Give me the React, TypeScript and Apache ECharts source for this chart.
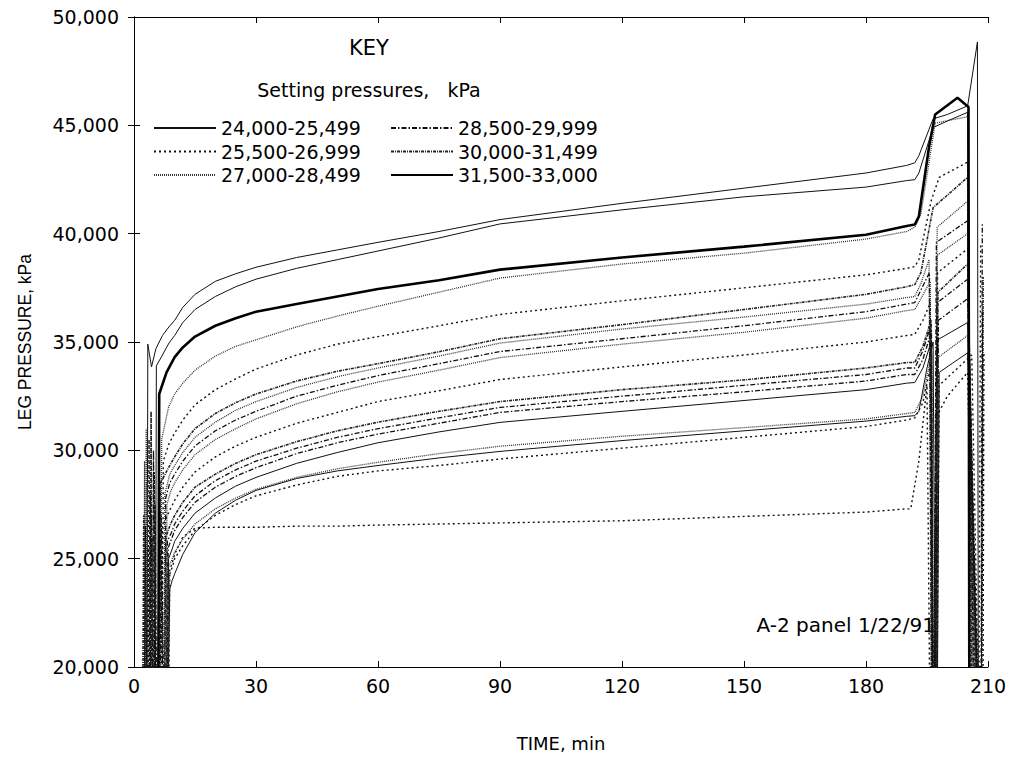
import React, { useEffect, useRef } from "react";
import * as echarts from "echarts";

// ---------- DATA ----------
const X_TICKS_MIN = 0;
const X_TICKS_MAX = 210;
const X_INTERVAL = 30;
const Y_MIN = 20000;
const Y_MAX = 50000;
const Y_INTERVAL = 5000;

const GROUP_NAMES = [
  "24,000-25,499",
  "25,500-26,999",
  "27,000-28,499",
  "28,500-29,999",
  "30,000-31,499",
  "31,500-33,000",
];

// group index of each traced curve
const SERIES_GROUP = [0, 0, 5, 2, 1, 4, 2, 3, 2, 1, 4, 3, 3, 0, 2, 0, 1, 1];

// common time grid (min) for the main body of each curve
const TIME_GRID = [10, 12, 15, 20, 25, 30, 40, 50, 60, 75, 90, 120, 150, 180, 190];

// leg pressure (kPa) of each curve at TIME_GRID
const BODY_VALUES = [
  [36000, 36600, 37200, 37800, 38150, 38450, 38900, 39250, 39600, 40100, 40650, 41400, 42100, 42800, 43150],
  [35300, 35900, 36500, 37100, 37550, 37900, 38400, 38800, 39200, 39800, 40450, 41100, 41700, 42150, 42450],
  [34300, 34750, 35250, 35750, 36100, 36400, 36750, 37100, 37450, 37850, 38340, 38900, 39400, 39950, 40350],
  [32600, 33100, 33700, 34350, 34800, 35100, 35700, 36200, 36650, 37300, 37950, 38600, 39100, 39750, 40100],
  [30800, 31400, 32100, 32800, 33300, 33750, 34400, 34900, 35250, 35750, 36270, 36900, 37500, 38100, 38400],
  [29700, 30300, 31000, 31700, 32200, 32600, 33200, 33650, 34000, 34550, 35150, 35800, 36500, 37200, 37550],
  [29300, 29900, 30600, 31300, 31850, 32250, 32900, 33400, 33800, 34350, 34950, 35600, 36150, 36750, 37050],
  [28900, 29500, 30200, 30900, 31400, 31800, 32500, 33000, 33450, 34000, 34560, 35150, 35750, 36400, 36750],
  [28500, 29100, 29800, 30500, 31000, 31450, 32150, 32700, 33150, 33700, 34280, 34900, 35450, 36100, 36450],
  [27700, 28300, 29000, 29700, 30200, 30600, 31250, 31750, 32250, 32750, 33270, 33850, 34400, 35000, 35300],
  [27000, 27600, 28300, 28900, 29400, 29800, 30400, 30900, 31300, 31800, 32250, 32800, 33250, 33800, 34050],
  [26600, 27200, 27900, 28600, 29100, 29500, 30100, 30600, 31000, 31500, 31980, 32500, 33000, 33500, 33800],
  [26300, 26900, 27600, 28300, 28800, 29200, 29850, 30350, 30750, 31250, 31750, 32250, 32700, 33200, 33500],
  [25800, 26400, 27100, 27800, 28350, 28750, 29400, 29900, 30350, 30850, 31290, 31800, 32300, 32800, 33100],
  [25300, 25900, 26600, 27300, 27800, 28200, 28750, 29150, 29450, 29850, 30190, 30650, 31050, 31450, 31700],
  [24300, 25200, 26200, 27100, 27700, 28150, 28700, 29050, 29300, 29650, 29950, 30450, 30900, 31350, 31570],
  [25000, 25600, 26300, 27000, 27500, 27900, 28400, 28800, 29050, 29300, 29600, 30100, 30600, 31100, 31400],
  [25200, 26000, 26400, 26450, 26450, 26450, 26500, 26500, 26550, 26600, 26650, 26750, 26950, 27150, 27300],
];

// [time, kPa] points before the common grid (setting spikes)
const START_POINTS = [
  [[3.2, 20000], [3.4, 34900], [4.3, 33850], [5.4, 34700], [7, 35300], [8.6, 35700]],
  [[5.3, 20000], [5.5, 33900], [7, 34400], [8.6, 34950]],
  [[6.0, 20000], [6.2, 32600], [8, 33600]],
  [[2.8, 20000], [3.0, 31000], [3.3, 20000], [6.6, 20000], [6.8, 30500], [8.5, 32000]],
  [[3.5, 20000], [3.7, 30500], [4.0, 20000], [7.0, 20000], [7.2, 29500], [8.6, 30300]],
  [[4.0, 20000], [4.2, 31800], [4.5, 20000], [6.3, 20000], [6.5, 28500], [8.5, 29200]],
  [[2.4, 20000], [2.6, 29500], [2.9, 20000], [7.4, 20000], [7.6, 28000], [8.8, 28900]],
  [[4.6, 20000], [4.8, 30000], [5.1, 20000], [6.0, 20000], [6.2, 29000], [7, 20000], [7.6, 20000], [7.8, 27800], [8.8, 28500]],
  [[3.0, 20000], [3.2, 28500], [3.5, 20000], [7.9, 20000], [8.1, 27500], [9, 28100]],
  [[4.8, 20000], [5.0, 29000], [5.3, 20000], [6.8, 20000], [7.0, 26500], [8.7, 27200]],
  [[2.2, 20000], [2.4, 27000], [2.7, 20000], [7.6, 20000], [7.8, 26000], [9, 26600]],
  [[3.8, 20000], [4.0, 28000], [4.3, 20000], [8.0, 20000], [8.2, 25800], [9.2, 26200]],
  [[5.0, 20000], [5.2, 27500], [5.5, 20000], [6.5, 20000], [6.7, 27000], [7.2, 20000], [8.2, 20000], [8.4, 25500], [9.2, 25900]],
  [[2.6, 20000], [2.8, 26500], [3.1, 20000], [8.3, 20000], [8.5, 25000], [9.3, 25400]],
  [[4.3, 20000], [4.5, 26000], [4.8, 20000], [8.0, 20000], [8.2, 24500], [9.2, 24900]],
  [[8.5, 20000], [8.8, 23600], [9.4, 24000]],
  [[3.3, 20000], [3.5, 25500], [3.8, 20000], [8.4, 20000], [8.6, 24200], [9.4, 24600]],
  [[4.1, 20000], [4.3, 27000], [4.6, 20000], [8.6, 20000], [8.8, 24500], [9.4, 24800]],
];

// [time, kPa] points after the common grid (yield and release)
const END_POINTS = [
  [[192, 43270], [193, 43600], [196.5, 45300], [200, 45500], [205, 45900], [207.4, 48850], [207.6, 20000]],
  [[192, 42490], [193, 42800], [196.5, 44900], [200, 45200], [205, 45600], [205.4, 20000]],
  [[192, 40420], [193, 40800], [195.5, 44000], [197, 45500], [202.5, 46270], [205.2, 45850], [205.4, 20000]],
  [[192, 40300], [193.5, 40900], [197, 45100], [205, 45400], [205.6, 20000]],
  [[192, 38480], [193, 38800], [196, 41500], [198, 42600], [205, 43300], [205.8, 20000], [207.8, 20000], [208.2, 39500]],
  [[192, 37650], [193.5, 38200], [196.5, 41200], [205, 42600], [206, 20000]],
  [[192, 37100], [193.5, 37700], [195.5, 38800], [196, 20000], [197, 20000], [197.5, 40300], [205, 41500], [206.2, 20000]],
  [[192, 36820], [193.5, 37400], [195.6, 38200], [196.1, 20000], [196.8, 20000], [197.3, 39600], [205, 40600], [206.4, 20000], [208.3, 20000], [208.6, 40500]],
  [[192, 36500], [193.5, 37000], [195.8, 37800], [196.3, 20000], [197.0, 20000], [197.5, 39000], [205, 40000], [206.6, 20000]],
  [[192, 35350], [194, 36000], [195.8, 36800], [196.2, 20000], [197.2, 20000], [197.6, 38200], [205, 39300], [206.8, 20000]],
  [[192, 34060], [194, 34800], [196, 36000], [196.4, 20000], [197.3, 20000], [197.7, 37300], [205, 38600], [207, 20000], [208.5, 20000], [208.8, 38000]],
  [[192, 33800], [194, 34600], [196, 35800], [196.3, 20000], [196.9, 20000], [197.4, 36800], [205, 37900], [207.2, 20000]],
  [[192, 33500], [194, 34200], [196.1, 35500], [196.5, 20000], [197.4, 20000], [197.8, 36000], [205, 37000], [207.4, 20000]],
  [[192, 33130], [194, 33800], [196, 35000], [196.4, 20000], [197.2, 20000], [197.6, 35100], [205, 35900], [207.1, 20000], [208.4, 20000], [208.7, 36500]],
  [[192, 31750], [194, 32500], [196.2, 34500], [196.6, 20000], [197.4, 20000], [197.8, 34300], [205, 35300], [206.9, 20000]],
  [[192, 31600], [193, 31800], [195, 33800], [196.5, 35000], [197, 20000], [197.6, 20000], [198, 33600], [205, 34500], [207.3, 20000]],
  [[192, 31500], [194, 32200], [196, 34000], [196.5, 20000], [197.5, 20000], [198, 33000], [206, 34400], [207.5, 20000], [208.8, 20000], [209, 34500]],
  [[191, 27300], [193, 29500], [195, 33000], [195.6, 20000], [196.8, 20000], [197.2, 31500], [200, 32500], [205, 33600], [206.6, 20000]],
];

const ANNOTATION = "A-2 panel 1/22/91";
const KEY_TITLE = "KEY";
const KEY_SUBTITLE = "Setting pressures,   kPa";
const X_NAME = "TIME, min";
const Y_NAME = "LEG PRESSURE, kPa";

// ---------- STYLES ----------
const FONT = "DejaVu Sans";
const GROUP_STYLES: any[] = [
  { width: 1, type: "solid", color: "#111" },
  { width: 1.4, type: [2, 3], color: "#111" },
  { width: 1.3, type: [1, 1], color: "#333" },
  { width: 1.3, type: [5, 2, 1.5, 2], color: "#111" },
  { width: 1.6, type: [3, 1, 1, 1], color: "#222" },
  { width: 2.6, type: "solid", color: "#000" },
];

function buildSeries() {
  return BODY_VALUES.map((vals, i) => {
    const g = SERIES_GROUP[i];
    const data = [
      ...START_POINTS[i],
      ...TIME_GRID.map((t, k) => [t, vals[k]]),
      ...END_POINTS[i],
    ];
    return {
      type: "line",
      name: GROUP_NAMES[g],
      data,
      symbol: "none",
      showSymbol: false,
      smooth: false,
      lineStyle: { ...GROUP_STYLES[g] },
      itemStyle: { color: GROUP_STYLES[g].color },
      z: g === 5 ? 3 : 2,
      emphasis: { disabled: true },
    };
  });
}

export default function App() {
  const ref = useRef<HTMLDivElement>(null);
  useEffect(() => {
    if (!ref.current) return;
    const chart = echarts.init(ref.current, undefined, { renderer: "svg" });
    const axisCommon = {
      type: "value",
      axisLine: { show: true, lineStyle: { color: "#000", width: 1 } },
      axisTick: { show: true, inside: true, length: 6, lineStyle: { color: "#000" } },
      splitLine: { show: false },
    };
    const legendCommon = {
      orient: "vertical",
      top: 118,
      itemWidth: 62,
      itemHeight: 14,
      itemGap: 3.5,
      padding: 0,
      selectedMode: false,
      itemStyle: { opacity: 0 },
      textStyle: { fontFamily: FONT, fontSize: 19, color: "#000", lineHeight: 20 },
    };
    chart.setOption({
      animation: false,
      backgroundColor: "#fff",
      textStyle: { fontFamily: FONT },
      title: {
        text: KEY_TITLE,
        subtext: KEY_SUBTITLE,
        left: 369,
        top: 37,
        textAlign: "center",
        itemGap: 22,
        padding: 0,
        textStyle: { fontFamily: FONT, fontSize: 21, fontWeight: "normal", color: "#000" },
        subtextStyle: { fontFamily: FONT, fontSize: 19, color: "#000" },
      },
      legend: [
        { ...legendCommon, left: 153, data: GROUP_NAMES.slice(0, 3) },
        { ...legendCommon, left: 390, data: GROUP_NAMES.slice(3, 6) },
      ],
      grid: { left: 134, right: 22, top: 17, bottom: 89, containLabel: false },
      xAxis: [
        {
          ...axisCommon,
          position: "bottom",
          min: X_TICKS_MIN,
          max: X_TICKS_MAX,
          interval: X_INTERVAL,
          name: X_NAME,
          nameLocation: "middle",
          nameGap: 67,
          nameTextStyle: { fontFamily: FONT, fontSize: 18, color: "#000" },
          axisLabel: { fontFamily: FONT, fontSize: 19, color: "#000", margin: 9 },
        },
        {
          ...axisCommon,
          position: "top",
          min: X_TICKS_MIN,
          max: X_TICKS_MAX,
          interval: X_INTERVAL,
          axisLabel: { show: false },
        },
      ],
      yAxis: [
        {
          ...axisCommon,
          position: "left",
          min: Y_MIN,
          max: Y_MAX,
          interval: Y_INTERVAL,
          name: Y_NAME,
          nameLocation: "middle",
          nameGap: 100,
          nameRotate: 90,
          nameTextStyle: { fontFamily: "Liberation Sans", fontSize: 17.5, color: "#000" },
          axisLabel: {
            fontFamily: FONT,
            fontSize: 19,
            color: "#000",
            margin: 15,
            formatter: (v: number) => v.toLocaleString("en-US"),
          },
        },
        {
          ...axisCommon,
          position: "right",
          min: Y_MIN,
          max: Y_MAX,
          interval: Y_INTERVAL,
          axisLabel: { show: false },
        },
      ],
      graphic: [
        {
          type: "text",
          x: 935,
          y: 625,
          style: {
            text: ANNOTATION,
            fontFamily: FONT,
            fontSize: 20,
            fill: "#000",
            align: "right",
            verticalAlign: "middle",
          },
        },
      ],
      series: buildSeries(),
    });
    return () => chart.dispose();
  }, []);
  return (
    <div
      ref={ref}
      style={{ position: "fixed", left: 0, top: 0, width: 1010, height: 757, background: "#fff" }}
    />
  );
}
